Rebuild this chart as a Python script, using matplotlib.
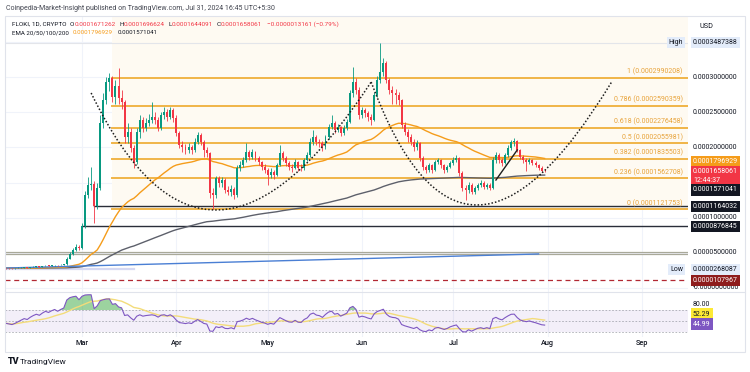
import datetime as dt
import numpy as np
import pandas as pd
import matplotlib
matplotlib.use("Agg")
import matplotlib.pyplot as plt
import matplotlib.dates as mdates
from matplotlib.path import Path
from matplotlib.patches import PathPatch, Rectangle
from matplotlib.transforms import blended_transform_factory

plt.rcParams['font.family'] = ['Roboto', 'DejaVu Sans']

# FLOKI daily candles, prices in units of 1e-6
start_date = "2024-02-05"
first_open = 28.4
closes = [28.2, 28.0, 27.8, 28.1, 28.5, 28.9, 29.3, 29.1, 29.7, 30.2,
          30.6, 30.4, 31.1, 31.7, 31.5, 32.1, 32.6, 32.3, 33.0, 33.6,
          41.5, 49.0, 54.2, 58.6, 56.8, 87.7, 132.0, 146.5, 148.0, 116.4,
          142.0, 235.0, 267.0, 293.0, 299.0, 272.0, 288.0, 270.0, 265.0, 215.0,
          222.0, 199.0, 179.0, 222.0, 239.0, 228.0, 235.0, 239.0, 243.0, 239.0,
          228.0, 246.0, 250.0, 243.0, 253.0, 242.0, 220.0, 203.0, 200.0, 196.0,
          200.0, 196.0, 208.0, 218.0, 208.0, 196.0, 192.0, 135.0, 132.0, 156.0,
          149.0, 154.0, 139.0, 137.0, 141.0, 132.0, 171.0, 175.0, 182.0, 193.0,
          186.0, 193.0, 185.0, 179.0, 172.0, 168.0, 161.0, 165.0, 161.0, 175.0,
          192.0, 185.0, 178.0, 172.0, 171.0, 179.0, 171.0, 170.0, 182.0, 189.0,
          208.0, 215.0, 208.0, 206.0, 200.0, 215.0, 229.0, 235.0, 225.0, 229.0,
          220.0, 228.0, 236.0, 277.0, 293.0, 282.0, 246.0, 253.0, 249.0, 243.0,
          239.0, 275.0, 296.0, 307.0, 320.0, 296.0, 282.0, 277.0, 275.0, 267.0,
          232.0, 222.0, 215.0, 208.0, 200.0, 206.0, 185.0, 172.0, 168.0, 175.0,
          168.0, 179.0, 182.0, 175.0, 168.0, 172.0, 178.0, 182.0, 185.0, 164.0,
          142.0, 139.0, 147.0, 137.0, 142.0, 147.0, 149.0, 144.0, 147.0, 142.0,
          182.0, 189.0, 182.0, 178.0, 189.0, 199.0, 208.0, 209.0, 196.0, 186.0,
          182.0, 179.0, 182.0, 178.0, 175.0, 171.0, 167.1, 165.8]
highs = [29.0, 28.9, 28.6, 28.8, 29.2, 29.6, 30.1, 30.0, 30.4, 30.9,
         31.4, 31.3, 31.9, 32.5, 32.4, 32.9, 33.4, 33.3, 33.8, 34.5,
         43.6, 51.8, 57.5, 62.4, 61.0, 92.0, 138.0, 158.0, 172.0, 152.0,
         150.0, 246.0, 277.0, 300.0, 306.0, 302.0, 296.0, 313.0, 281.0, 268.0,
         234.0, 228.0, 203.0, 228.0, 246.0, 243.0, 242.0, 247.0, 265.0, 251.0,
         243.0, 251.0, 258.0, 254.0, 258.0, 256.0, 246.0, 224.0, 209.0, 205.0,
         206.0, 204.0, 213.0, 222.0, 220.0, 211.0, 200.0, 194.0, 142.0, 160.0,
         160.0, 158.0, 156.0, 145.0, 146.0, 144.0, 175.0, 181.0, 187.0, 206.0,
         197.0, 198.0, 195.0, 188.0, 181.0, 176.0, 170.0, 171.0, 168.0, 178.0,
         203.0, 195.0, 188.0, 180.0, 176.0, 184.0, 181.0, 176.0, 185.0, 193.0,
         213.0, 225.0, 218.0, 212.0, 209.0, 218.0, 233.0, 246.0, 238.0, 233.0,
         231.0, 232.0, 240.0, 282.0, 314.0, 298.0, 286.0, 258.0, 256.0, 252.0,
         247.0, 279.0, 301.0, 348.7, 327.0, 323.0, 299.0, 288.0, 283.0, 279.0,
         269.0, 236.0, 226.0, 219.0, 212.0, 210.0, 208.0, 188.0, 175.0, 178.0,
         177.0, 182.0, 185.0, 184.0, 177.0, 175.0, 181.0, 186.0, 189.0, 187.0,
         166.0, 147.0, 151.0, 149.0, 145.0, 150.0, 153.0, 152.0, 150.0, 149.0,
         186.0, 194.0, 192.0, 185.0, 192.0, 203.0, 210.0, 213.0, 211.0, 198.0,
         189.0, 185.0, 185.0, 184.0, 180.0, 177.0, 173.0, 169.7]
lows = [27.5, 27.3, 26.8, 27.4, 27.8, 28.2, 28.6, 28.5, 28.8, 29.4,
        29.8, 29.7, 30.1, 30.8, 30.9, 31.2, 31.7, 31.6, 32.0, 32.6,
        33.2, 40.8, 47.6, 52.0, 53.5, 55.6, 85.0, 128.0, 139.0, 92.0,
        112.0, 139.0, 228.0, 262.0, 280.0, 265.0, 262.0, 262.0, 255.0, 206.0,
        206.0, 193.0, 171.0, 176.0, 214.0, 222.0, 224.0, 230.0, 234.0, 233.0,
        223.0, 225.0, 241.0, 238.0, 240.0, 236.0, 216.0, 199.0, 194.0, 190.0,
        192.0, 191.0, 194.0, 205.0, 203.0, 186.0, 186.0, 128.0, 112.2, 128.0,
        144.0, 143.0, 135.0, 132.0, 131.0, 127.0, 130.0, 166.0, 172.0, 179.0,
        182.0, 183.0, 181.0, 175.0, 168.0, 163.0, 147.0, 156.0, 155.0, 159.0,
        173.0, 181.0, 174.0, 168.0, 165.0, 169.0, 167.0, 166.0, 168.0, 180.0,
        187.0, 204.0, 203.0, 200.0, 195.0, 198.0, 212.0, 226.0, 221.0, 222.0,
        216.0, 218.0, 225.0, 234.0, 272.0, 276.0, 240.0, 242.0, 243.0, 238.0,
        232.0, 237.0, 271.0, 292.0, 302.0, 291.0, 276.0, 262.0, 262.0, 261.0,
        228.0, 217.0, 208.0, 203.0, 195.0, 197.0, 180.0, 168.0, 163.0, 165.0,
        164.0, 166.0, 176.0, 171.0, 164.0, 165.0, 170.0, 175.0, 179.0, 160.0,
        138.0, 125.0, 135.0, 133.0, 134.0, 139.0, 144.0, 141.0, 141.0, 139.0,
        141.0, 178.0, 178.0, 173.0, 176.0, 186.0, 196.0, 202.0, 193.0, 183.0,
        178.0, 166.0, 176.0, 175.0, 172.0, 168.0, 165.0, 164.4]

# Wilder averages carried in from before the visible window
rsi_seed_gain = 0.30
rsi_seed_loss = 0.34

fib_ratios = ["1", "0.786", "0.618", "0.5", "0.382", "0.236", "0"]
fib_prices = [0.0002990208, 0.0002590359, 0.0002276458, 0.0002055981,
              0.0001835503, 0.0001562708, 0.0001121753]
fib_start = "2024-03-11"

# horizontal levels drawn on the chart
hline_black = [0.0001164032, 0.0000876845]
hline_black_start = ["2024-03-05", "2024-03-01"]
hline_gray = [0.0000512, 0.0000485]
red_dash_level = 0.0000107967
high_value = 0.0003487388
low_value = 0.0000268087

# trend line and cup curves (date, price 1e-6)
blue_line_dates = ["2024-02-05", "2024-07-29"]
blue_line_prices = [28.4, 48.4]
cup1 = [("2024-03-04", 277.4), ("2024-04-11", -63.2), ("2024-06-04", 293.0)]
cup2 = [("2024-06-04", 293.0), ("2024-07-04", -57.0), ("2024-08-22", 293.0)]
trend_dates = ["2024-07-15", "2024-07-22"]
trend_prices = [153.6, 196.3]

axis_ticks = [0.0003, 0.00025, 0.0002, 0.0001, 0.00005]
month_labels = ["Mar", "Apr", "May", "Jun", "Jul", "Aug", "Sep"]
month_dates = ["2024-03-01", "2024-04-01", "2024-05-01", "2024-06-01",
               "2024-07-01", "2024-08-01", "2024-09-01"]

GREEN = '#089981'
RED = '#f23645'
ORANGE = '#f59c1a'
FIB = '#f0b548'
DARK = '#131722'

dates = pd.date_range(start_date, periods=len(closes), freq='D')
x = mdates.date2num(dates)
c = np.array(closes)
o = np.array([first_open] + closes[:-1])
h = np.array(highs)
l = np.array(lows)

s = pd.Series(c)
ema50 = s.ewm(span=50, adjust=False).mean().values
ema200 = s.ewm(span=200, adjust=False).mean().values

# RSI 14 (Wilder) and its 14 day average
ag, al = rsi_seed_gain, rsi_seed_loss
rsi = []
for dlt in np.diff(np.r_[first_open, c]):
    ag = (ag * 13 + max(dlt, 0)) / 14
    al = (al * 13 + max(-dlt, 0)) / 14
    rsi.append(100 - 100 / (1 + ag / al))
rsi = np.array(rsi)
rsi_ma = pd.Series(rsi).rolling(14, min_periods=1).mean().values

W, H = 750, 372
fig = plt.figure(figsize=(7.5, 3.72), dpi=100)
ax = fig.add_axes([5/W, 80/H, 683/W, 276/H])
axr = fig.add_axes([5/W, 35/H, 683/W, 45/H])

mar1 = mdates.date2num(dt.datetime(2024, 3, 1))
for a in (ax, axr):
    a.set_xlim(mar1 - 25.3, mar1 + 199.1)
    for sp in a.spines.values():
        sp.set_visible(False)
    a.set_xticks([])
    a.set_yticks([])
    for md in month_dates:
        a.axvline(mdates.datestr2num(md), color='#f0f3fa', lw=0.8, zorder=0)
ax.set_ylim(-5.7, 386.9)
axr.set_ylim(20.9, 102.7)

for v in range(0, 400, 50):
    ax.axhline(v, color='#f0f3fa', lw=0.8, zorder=0)

# fib retracement
fx0 = mdates.datestr2num(fib_start)
ax.add_patch(Rectangle((fx0, fib_prices[-1]*1e6), 400, 400, color='#fefaf2', zorder=0.5, lw=0))
for r, p in zip(fib_ratios, fib_prices):
    ax.plot([fx0, fx0 + 400], [p*1e6, p*1e6], color=FIB, lw=1.4, zorder=1)
    ax.text(0.992, p*1e6 + 3.2, f"{r} ({p:.10f})", transform=blended_transform_factory(ax.transAxes, ax.transData),
            ha='right', va='bottom', fontsize=5, color='#e8a33a')

# high / low markers
ax.axhline(high_value*1e6, color='#e3e5ea', lw=0.8, zorder=0.6)
ax.plot([x[0], mdates.datestr2num("2024-03-18")], [low_value*1e6]*2, color='#d6d9f2', lw=1.6, zorder=1)
for p in hline_gray:
    ax.axhline(p*1e6, color='#a9a99a', lw=0.9, zorder=1)
for p, sd in zip(hline_black, hline_black_start):
    ax.plot([mdates.datestr2num(sd), mar1 + 300], [p*1e6]*2, color='#2a2e39', lw=1.0, zorder=1.2)
ax.axhline(red_dash_level*1e6, color='#b22833', lw=0.9, dashes=(4, 3), zorder=1)

# EMAs
ax.plot(x, ema200, color='#5d606b', lw=1.0, zorder=2)
ax.plot(x, ema50, color=ORANGE, lw=1.0, zorder=2)
bx = mdates.datestr2num(blue_line_dates)
ax.plot(bx, blue_line_prices, color='#4a7fd4', lw=1.0, zorder=2)

# candles
up = c >= o
col = np.where(up, GREEN, RED)
ax.vlines(x, l, h, colors=col, lw=0.6, zorder=3)
body_lo = np.minimum(o, c)
body_h = np.maximum(np.abs(c - o), 0.6)
ax.bar(x, body_h, bottom=body_lo, width=0.65, color=col, lw=0, zorder=3.5)

# cup drawings
for cup in (cup1, cup2):
    pts = [(mdates.datestr2num(dd), pp) for dd, pp in cup]
    path = Path(pts, [Path.MOVETO, Path.CURVE3, Path.CURVE3])
    ax.add_patch(PathPatch(path, fc='none', ec='#1e1e1e', lw=1.1, ls=(0, (1, 1.3)), zorder=4))
ax.plot(mdates.datestr2num(trend_dates), trend_prices, color='#1e1e1e', lw=1.0, zorder=4)

# price axis labels
tr = blended_transform_factory(ax.transAxes, ax.transData)
lx = 1.0073
for v in axis_ticks:
    ax.text(lx, v*1e6, f"{v:.10f}", transform=tr, fontsize=5, color=DARK, va='center', ha='left', clip_on=False)
ax.text(lx, 0, "-0.0000000000", transform=tr, fontsize=5, color=DARK, va='center', ha='left', clip_on=False)

def box_label(p, txt, fc, tc='white'):
    ax.text(lx, p, txt, transform=tr, fontsize=5, color=tc, va='center', ha='left', clip_on=False,
            linespacing=1.3, bbox=dict(boxstyle='square,pad=0.3', fc=fc, ec='none'))

box_label(high_value*1e6, f"{high_value:.10f}", '#e3ecfa', DARK)
ax.text(0.993, high_value*1e6, "High", transform=tr, fontsize=5, color=DARK, va='center', ha='right',
        bbox=dict(boxstyle='square,pad=0.3', fc='#e3ecfa', ec='none'))
box_label(179.6929, "0.0001796929", ORANGE)
box_label(159.3, "0.0001658061\n12:44:37", RED)
box_label(139.4, "0.0001571041", DARK)
box_label(hline_black[0]*1e6, f"{hline_black[0]:.10f}", DARK)
box_label(hline_black[1]*1e6, f"{hline_black[1]:.10f}", DARK)
box_label(low_value*1e6, f"{low_value:.10f}", '#e3ecfa', DARK)
ax.text(0.993, low_value*1e6, "Low", transform=tr, fontsize=5, color=DARK, va='center', ha='right',
        bbox=dict(boxstyle='square,pad=0.3', fc='#e3ecfa', ec='none'))
box_label(red_dash_level*1e6, f"{red_dash_level:.10f}", '#8e1c1c')

# RSI pane
axr.axhspan(30, 70, color='#7e57c2', alpha=0.09, lw=0, zorder=0)
for lev in (70, 50, 30):
    axr.axhline(lev, color='#9598a1', lw=0.6, dashes=(2, 2), alpha=0.8, zorder=1)
axr.fill_between(x, rsi, 70, where=rsi > 70, interpolate=True, color='#4caf50', alpha=0.55, lw=0, zorder=1.5)
axr.plot(x, rsi_ma, color='#f3dc7a', lw=1.0, zorder=2)
axr.plot(x, rsi, color='#7e57c2', lw=0.8, zorder=3)
trr = blended_transform_factory(axr.transAxes, axr.transData)
axr.text(lx, 80, "80.00", transform=trr, fontsize=5, color=DARK, va='center', ha='left', clip_on=False)
axr.text(lx, 62.7, "52.29", transform=trr, fontsize=5, color=DARK, va='center', ha='left', clip_on=False,
         bbox=dict(boxstyle='square,pad=0.3', fc='#fde935', ec='none'))
axr.text(lx, 44.5, "44.99", transform=trr, fontsize=5, color='white', va='center', ha='left', clip_on=False,
         bbox=dict(boxstyle='square,pad=0.3', fc='#7e57c2', ec='none'))
for lab, md in zip(month_labels, month_dates):
    axr.text(mdates.datestr2num(md), -0.13, lab, transform=axr.get_xaxis_transform(),
             fontsize=5.3, color=DARK, ha='center', va='center', fontweight='medium')

# frame and separators
fig.add_artist(Rectangle((5/W, 20/H), 740/W, 336/H, fill=False, ec='#e0e3eb', lw=0.8, transform=fig.transFigure))
fig.add_artist(plt.Line2D([5/W, 745/W], [80/H, 80/H], color='#e0e3eb', lw=0.8))

# header texts, chained left to right
def chain(parts, px, py, size=4.6):
    t = None
    for txt, colr, gap in parts:
        if t is None:
            t = ax.annotate(txt, xy=(px, H - py), xycoords='figure pixels', fontsize=size, color=colr,
                            va='center', ha='left', annotation_clip=False)
        else:
            t = ax.annotate(txt, xy=(1, 0.5), xycoords=t, xytext=(gap, 0), textcoords='offset points',
                            fontsize=size, color=colr, va='center', ha='left', annotation_clip=False)
    return t

fig.text(6/W, 1 - 9/H, "Coinpedia-Market-Insight published on TradingView.com, Jul 31, 2024 16:45 UTC+5:30",
         fontsize=5.0, color='#434651', va='center')
chain([("FLOKI, 1D, CRYPTO", DARK, 0), ("O", DARK, 2.5), ("0.0001671262", RED, 0),
       ("H", DARK, 2.5), ("0.0001696624", RED, 0), ("L", DARK, 2.5), ("0.0001644091", RED, 0),
       ("C", DARK, 2.5), ("0.0001658061", RED, 0), ("\u22120.0000013161 (\u22120.79%)", RED, 4)], 12, 24)
chain([("EMA 20/50/100/200", DARK, 0), ("0.0001796929", ORANGE, 3), ("0.0001571041", DARK, 3)], 12, 33,
      size=4.4)
chain([("RSI", DARK, 0), ("44.99", '#7e57c2', 3), ("52.29", '#e6c43a', 3), ("\u2205", DARK, 3),
       ("\u2205", DARK, 3), ("\u2205", DARK, 3), ("\u2205", DARK, 3)], 10, 301)
fig.text(700/W, 1 - 27/H, "USD", fontsize=5.2, color=DARK, va='center')
fig.text(8/W, 1 - 362/H, "TV", fontsize=6.5, color=DARK, va='center', fontweight='heavy')
fig.text(20/W, 1 - 362/H, "TradingView", fontsize=6, color=DARK, va='center')

fig.savefig("out.png", dpi=100)
